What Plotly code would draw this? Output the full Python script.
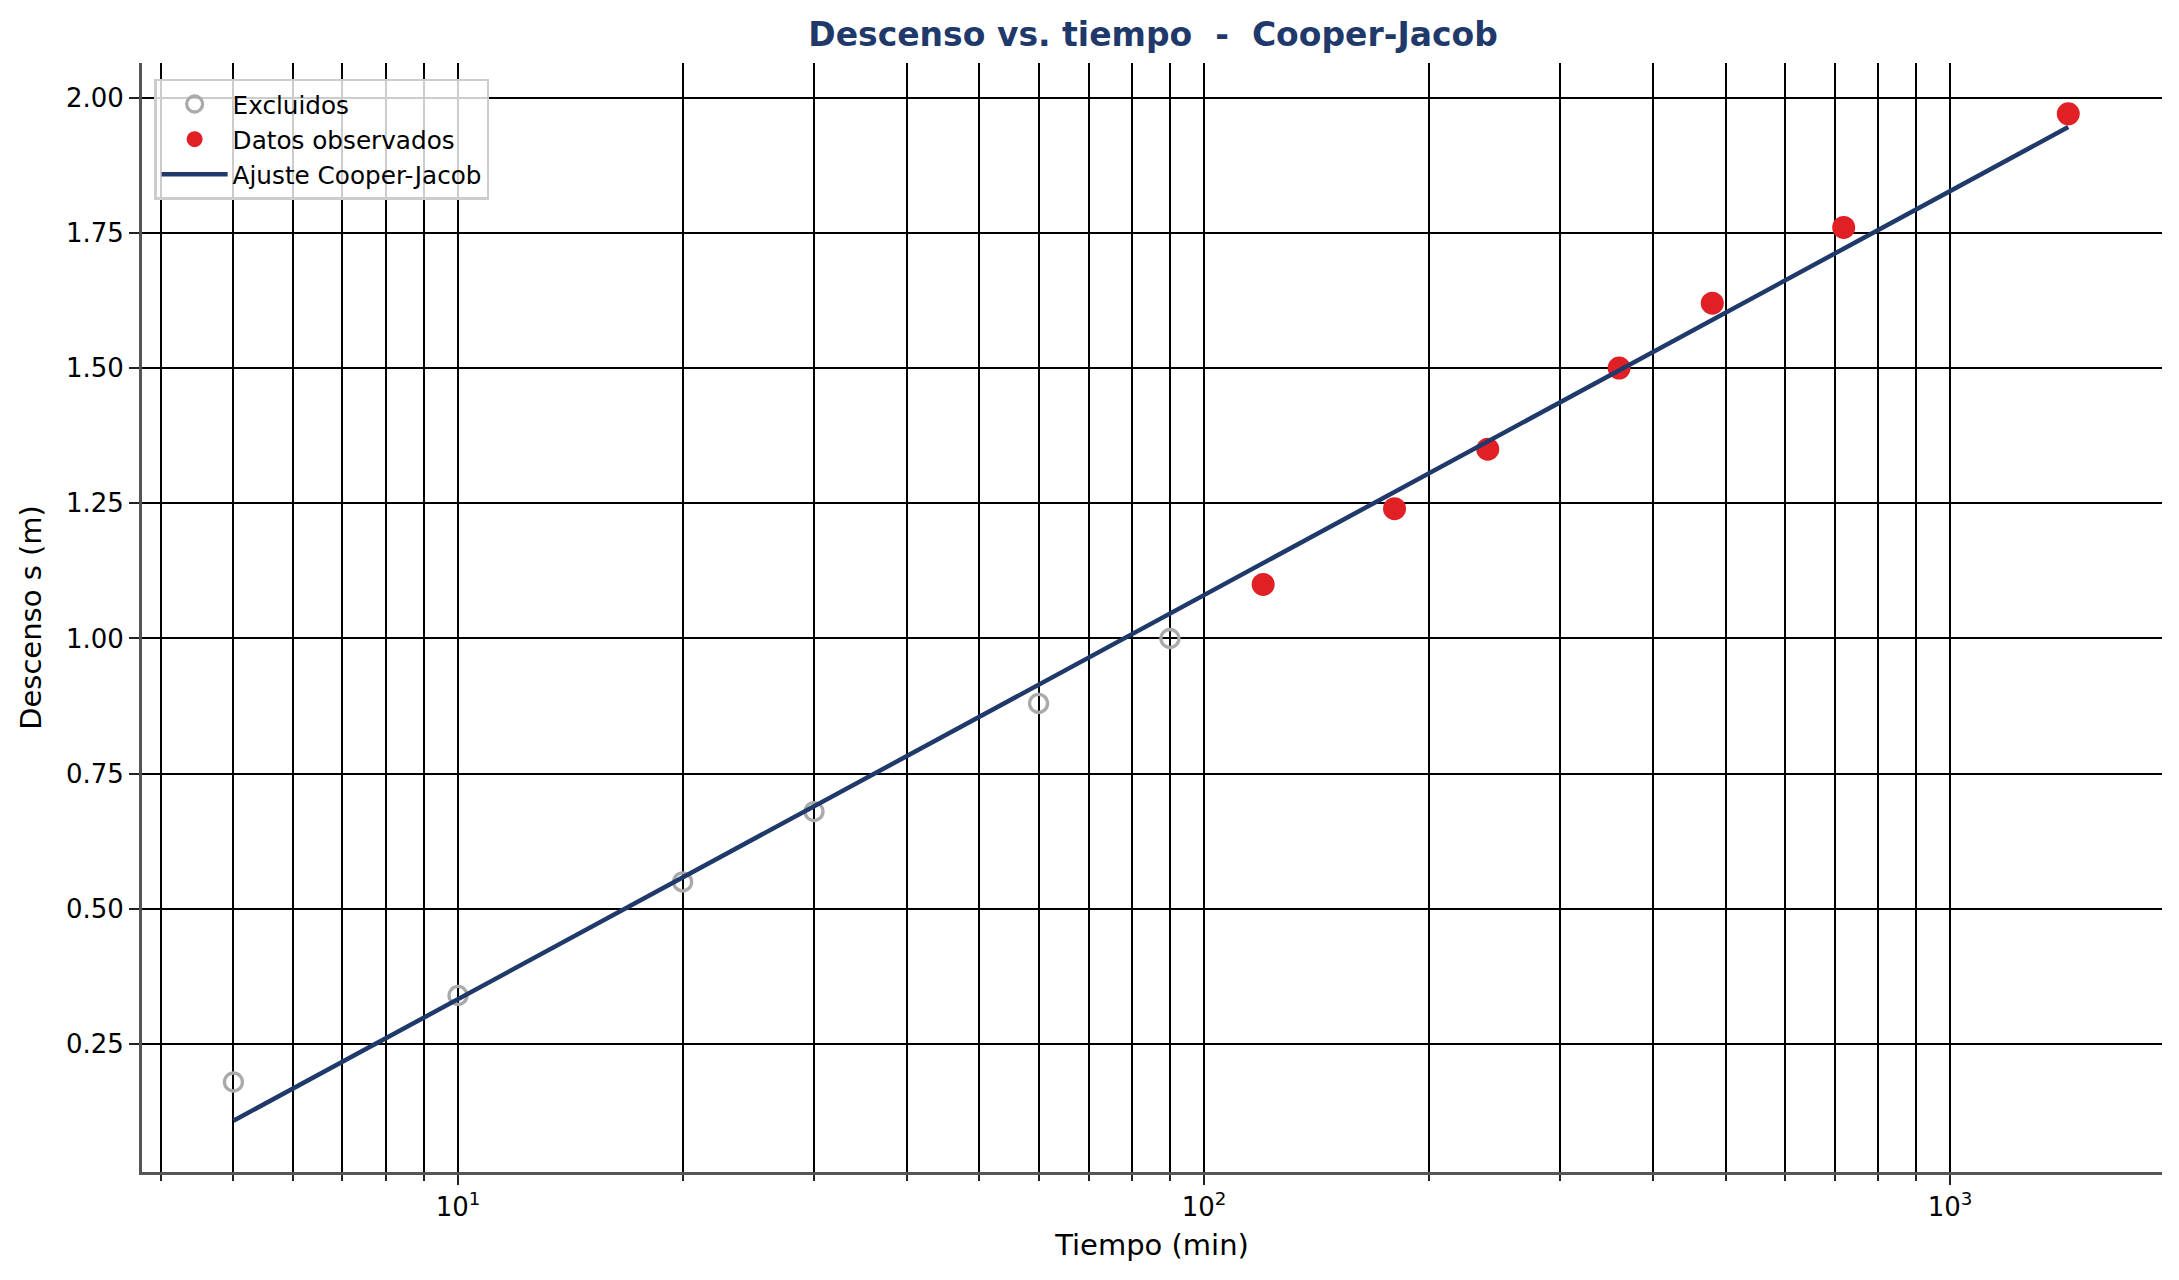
"""
Cooper-Jacob drawdown vs. time plot
"""

import numpy as np
import plotly.graph_objs as go

# data
t_excluded = [5, 10, 20, 30, 60, 90]
s_excluded = [0.18, 0.34, 0.55, 0.68, 0.88, 1.00]

t_observed = [120, 180, 240, 360, 480, 720, 1440]
s_observed = [1.10, 1.24, 1.35, 1.50, 1.62, 1.76, 1.97]

# Cooper-Jacob fit: s = ds * log10(t / t0)
fit_ds = 0.747
fit_t0 = 3.58

x_major = [10, 100, 1000]
x_major_text = ['10<sup>1</sup>', '10<sup>2</sup>', '10<sup>3</sup>']
x_minor = [4, 5, 6, 7, 8, 9, 20, 30, 40, 50, 60, 70, 80, 90,
           200, 300, 400, 500, 600, 700, 800, 900]
y_ticks = [0.25, 0.50, 0.75, 1.00, 1.25, 1.50, 1.75, 2.00]

navy = '#1F3A6A'
red = '#E02024'
grey = '#AAAAAA'
font = 'DejaVu Sans'

t_all = np.array(sorted(t_excluded + t_observed), dtype=float)
s_fit = fit_ds * np.log10(t_all / fit_t0)

fig = go.Figure()
fig.add_trace(go.Scatter(
    x=t_excluded, y=s_excluded, mode='markers', name='Excluidos',
    marker=dict(symbol='circle-open', size=18, color=grey,
                line=dict(width=3.3, color=grey))))
fig.add_trace(go.Scatter(
    x=t_observed, y=s_observed, mode='markers', name='Datos observados',
    marker=dict(symbol='circle', size=23, color=red)))
fig.add_trace(go.Scatter(
    x=t_all, y=s_fit, mode='lines', name='Ajuste Cooper-Jacob',
    line=dict(color=navy, width=4.5)))

# the page body adds an 8px offset, so margins are shifted to compensate
fig.update_layout(
    width=2179, height=1280,
    margin=dict(l=134, r=25, t=55, b=116),
    paper_bgcolor='white', plot_bgcolor='white',
    font=dict(family=font, size=26, color='black'),
    title=dict(text='<b>Descenso vs. tiempo \u00a0-\u00a0 Cooper-Jacob</b>',
               x=0.5255, xanchor='center', y=0.979, yanchor='middle',
               font=dict(size=33, color=navy)),
    showlegend=True,
    legend=dict(x=0.006, y=0.9856, xanchor='left', yanchor='top',
                bgcolor='rgba(255,255,255,0.8)', bordercolor='#CCCCCC',
                borderwidth=2.5, font=dict(size=24.7), itemwidth=66,
                tracegroupgap=0),
)

fig.update_xaxes(
    type='log', range=[0.5764, 3.284],
    title=dict(text='Tiempo (min)', font=dict(size=29), standoff=14),
    tickvals=x_major, ticktext=x_major_text,
    ticks='outside', ticklen=10, tickwidth=1.5, tickcolor='#222',
    showgrid=True, gridcolor='black', gridwidth=1.5,
    showline=True, linecolor='#555555', linewidth=3,
    zeroline=False, mirror=False,
    minor=dict(tickvals=x_minor, ticks='outside', ticklen=6,
               tickcolor='#222', showgrid=True, gridcolor='black',
               gridwidth=1.5),
)
fig.update_yaxes(
    range=[0.0136, 2.064],
    title=dict(text='Descenso s (m)', font=dict(size=29), standoff=16),
    tickvals=y_ticks, tickformat='.2f',
    ticks='outside', ticklen=10, tickwidth=1.5, tickcolor='#222',
    showgrid=True, gridcolor='black', gridwidth=1.8,
    showline=True, linecolor='#555555', linewidth=3,
    zeroline=False, mirror=False,
)

fig.write_html("out.html")
